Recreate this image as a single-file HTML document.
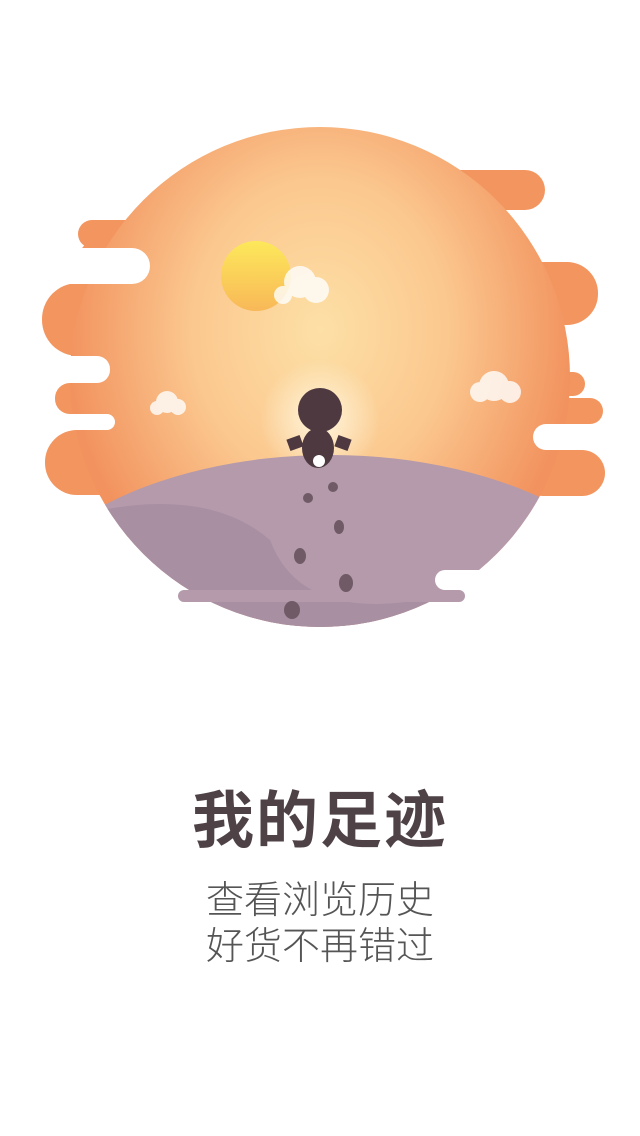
<!DOCTYPE html>
<html><head><meta charset="utf-8">
<style>
html,body{margin:0;padding:0;background:#fff;width:640px;height:1136px;overflow:hidden}
.t{position:absolute;left:0;width:640px;text-align:center;font-family:"Liberation Sans","Noto Sans CJK SC",sans-serif;white-space:nowrap}
</style></head><body>
<svg width="640" height="700" style="position:absolute;left:0;top:0">
<defs>
<radialGradient id="sky" cx="320" cy="330" r="300" gradientUnits="userSpaceOnUse" gradientTransform="translate(320 330) scale(0.85 1) translate(-320 -330)">
<stop offset="0" stop-color="#fde0a6"/><stop offset="0.5" stop-color="#fbc88f"/><stop offset="1" stop-color="#f2925e"/>
</radialGradient>
<radialGradient id="glow" cx="320" cy="420" r="60" gradientUnits="userSpaceOnUse"><stop offset="0" stop-color="#fff6de"/><stop offset="1" stop-color="#fff6de" stop-opacity="0"/></radialGradient>
<linearGradient id="sun" x1="0" y1="0" x2="0" y2="1"><stop offset="0" stop-color="#fde85a"/><stop offset="1" stop-color="#f8b858"/></linearGradient>
<clipPath id="cc"><circle cx="320" cy="377" r="250"/></clipPath>
</defs>
<g>
<rect x="78" y="220" width="90" height="28" rx="14" fill="#f3955f"/>
<rect x="78" y="240" width="75" height="45" rx="20" fill="#f3955f"/>
<rect x="42" y="283" width="120" height="73" rx="36" fill="#f3955f"/>
<rect x="55" y="383" width="80" height="31" rx="15" fill="#f3955f"/>
<rect x="45" y="430" width="120" height="65" rx="32" fill="#f3955f"/>
<rect x="440" y="170" width="105" height="40" rx="20" fill="#f3955f"/>
<rect x="500" y="262" width="98" height="63" rx="31" fill="#f3955f"/>
<rect x="540" y="372" width="45" height="24" rx="12" fill="#f3955f"/>
<rect x="540" y="398" width="63" height="26" rx="13" fill="#f3955f"/>
<rect x="520" y="450" width="85" height="46" rx="23" fill="#f3955f"/>
<circle cx="320" cy="377" r="250" fill="url(#sky)"/>
<rect x="0" y="248" width="150" height="36" rx="18" fill="#fff"/>
<rect x="0" y="356" width="110" height="27" rx="13" fill="#fff"/>
<rect x="0" y="414" width="115" height="16" rx="8" fill="#fff"/>
<rect x="533" y="424" width="120" height="26" rx="13" fill="#fff"/>
</g>
<circle cx="256" cy="276" r="35" fill="url(#sun)"/>
<g fill="#fff" opacity="0.8">
<circle cx="300" cy="282" r="16"/><circle cx="316" cy="290" r="13"/><circle cx="283" cy="295" r="9"/>
<circle cx="167" cy="402" r="11"/><circle cx="178" cy="407" r="8"/><circle cx="157" cy="408" r="7"/>
<circle cx="494" cy="386" r="15"/><circle cx="510" cy="392" r="11"/><circle cx="480" cy="392" r="10"/>
</g>
<circle cx="320" cy="420" r="60" fill="url(#glow)"/>
<g clip-path="url(#cc)">
<ellipse cx="330" cy="640" rx="330" ry="185" fill="#b49aab"/>
<path d="M60 520 Q200 480 270 540 Q300 620 420 600 Q500 560 580 540 L580 700 L60 700Z" fill="#a88fa2"/>
</g>
<rect x="178" y="590" width="287" height="12" rx="6" fill="#b49aab"/>
<rect x="435" y="570" width="140" height="20" rx="10" fill="#fff"/>
<g fill="#4e3940">
<circle cx="320" cy="410" r="22"/>
<ellipse cx="318" cy="448" rx="16" ry="20"/>
<rect x="288" y="437" width="14" height="12" transform="rotate(-20 295 443)"/>
<rect x="336" y="437" width="14" height="12" transform="rotate(20 343 443)"/>
</g>
<ellipse cx="319" cy="461" rx="6" ry="6" fill="#fff"/>
<g fill="#6f5a66">
<circle cx="308" cy="498" r="5"/><circle cx="333" cy="487" r="5"/>
<ellipse cx="339" cy="527" rx="5" ry="7"/><ellipse cx="300" cy="556" rx="6" ry="8"/>
<ellipse cx="346" cy="583" rx="7" ry="9"/><ellipse cx="292" cy="610" rx="8" ry="9"/>
</g>
</svg>
<div class="t" style="top:770px;font-size:62px;font-weight:bold;color:#4e4247;letter-spacing:2px">我的足迹</div>
<div class="t" style="top:869px;font-size:38px;font-weight:300;color:#555">查看浏览历史</div>
<div class="t" style="top:915px;font-size:38px;font-weight:300;color:#555">好货不再错过</div>
</body></html>
